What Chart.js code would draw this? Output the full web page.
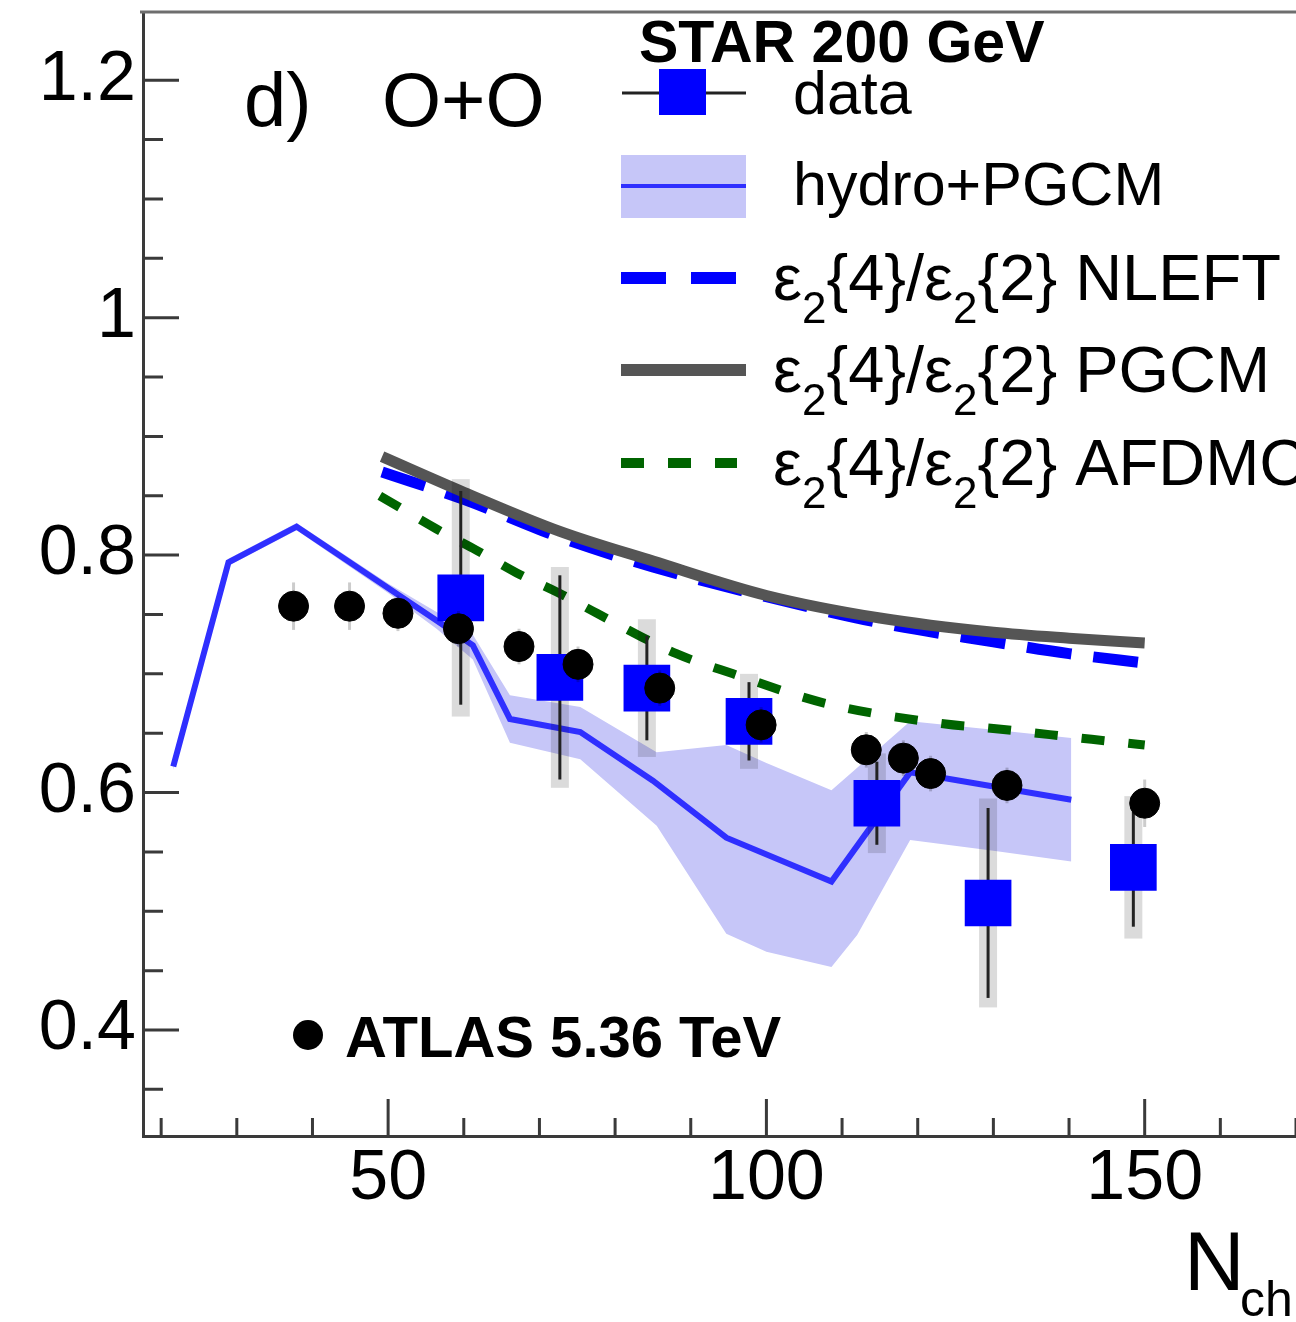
<!DOCTYPE html>
<html>
<head>
<meta charset="utf-8">
<title>O+O e2{4}/e2{2} vs Nch</title>
<script src="https://cdn.jsdelivr.net/npm/chart.js@4.4.1/dist/chart.umd.min.js"></script>
<style>
  html, body { margin: 0; padding: 0; background: #fff; }
  #wrap { width: 1296px; height: 1322px; }
</style>
</head>
<body>
<div id="wrap"><canvas id="ratioChart" width="1296" height="1322"></canvas></div>
<script>
// STAR 200 GeV O+O data (ratio with stat and sys errors)
const starNch = [59.6, 72.7, 84.2, 97.7, 114.6, 129.3, 148.5];
const starRatio = [0.764, 0.697, 0.688, 0.66, 0.591, 0.507, 0.537];
const starStat = [0.09, 0.086, 0.044, 0.033, 0.035, 0.08, 0.05];
const starSys = [0.1, 0.093, 0.058, 0.04, 0.042, 0.088, 0.06];

// ATLAS 5.36 TeV points
const atlasNch = [37.5, 44.9, 51.3, 59.3, 67.3, 75.1, 85.9, 99.3, 113.2, 118.1, 121.7, 131.8, 150.0];
const atlasRatio = [0.757, 0.757, 0.751, 0.738, 0.723, 0.708, 0.688, 0.657, 0.636, 0.629, 0.616, 0.606, 0.591];
const atlasErr = [0.02, 0.02, 0.015, 0.015, 0.015, 0.015, 0.015, 0.015, 0.015, 0.015, 0.015, 0.015, 0.02];

// hydro+PGCM central curve
const hydroNch = [21.6, 28.9, 37.9, 56.4, 61.2, 66.1, 75.4, 85.0, 94.7, 108.6, 119.0, 140.3];
const hydroRatio = [0.622, 0.794, 0.824, 0.745, 0.724, 0.662, 0.651, 0.61, 0.562, 0.525, 0.617, 0.594];

// hydro+PGCM uncertainty band
const bandNch = [21.6, 28.9, 37.9, 50, 56.4, 61.2, 66.1, 75.4, 85.5, 94.7, 100, 108.6, 112, 119, 130, 140.3];
const bandHigh = [0.625, 0.797, 0.827, 0.776, 0.752, 0.733, 0.682, 0.672, 0.634, 0.64, 0.625, 0.602, 0.621, 0.66, 0.653, 0.646];
const bandLow = [0.619, 0.791, 0.821, 0.768, 0.738, 0.712, 0.642, 0.628, 0.572, 0.481, 0.466, 0.453, 0.48, 0.56, 0.551, 0.542];

// eps2{4}/eps2{2} from the three nuclear structure inputs
const nleftNch = [49.2, 60, 72.7, 85, 100, 115, 130, 140, 150];
const nleftRatio = [0.87, 0.847, 0.815, 0.79, 0.765, 0.743, 0.727, 0.717, 0.709];
const pgcmNch = [49.2, 60, 72.7, 85, 100, 115, 130, 140, 150];
const pgcmRatio = [0.883, 0.853, 0.82, 0.795, 0.766, 0.747, 0.735, 0.73, 0.726];
const afdmcNch = [48.9, 56.4, 61.7, 67, 72.3, 77.6, 88.1, 95.6, 107.9, 123.4, 130, 141.4, 150];
const afdmcRatio = [0.85, 0.822, 0.804, 0.785, 0.769, 0.751, 0.717, 0.7, 0.675, 0.658, 0.654, 0.646, 0.64];

// axis ticks
const xTicks = [20, 30, 40, 50, 60, 70, 80, 90, 100, 110, 120, 130, 140, 150, 160, 170];
const xLabelled = [50, 100, 150];
const yTicks = [0.35, 0.4, 0.45, 0.5, 0.55, 0.6, 0.65, 0.7, 0.75, 0.8, 0.85, 0.9, 0.95, 1, 1.05, 1.1, 1.15, 1.2];
const yLabelled = [0.4, 0.6, 0.8, 1, 1.2];

const dataBlue = "#0000ff";
const hydroBlue = "#2f2fff";
const bandFill = "#c6c6f8";
const pgcmGray = "#555555";
const afdmcGreen = "#006400";
const axisColor = "#3a3a3a";
const fontFamily = '"Liberation Sans", Arial, sans-serif';

function toPoints(xs, ys) {
  return xs.map((x, i) => ({ x: x, y: ys[i] }));
}

function isIn(list, v) {
  return list.some((t) => Math.abs(t - v) < 1e-6);
}

// no extra room for the edge labels, the frame fills the canvas
function noEdgePadding(scale) {
  scale.paddingTop = 0;
  scale.paddingBottom = 0;
  scale.paddingLeft = 0;
  scale.paddingRight = 0;
}

// draws stat bars (and sys boxes) right under the markers of a dataset
const errorBars = {
  id: "errorBars",
  beforeDatasetDraw(chart, args) {
    const ds = chart.data.datasets[args.index];
    if (!ds.errStat) return;
    const { ctx, scales } = chart;
    ctx.save();
    ds.data.forEach((p, i) => {
      const px = scales.x.getPixelForValue(p.x);
      if (ds.errSys) {
        const top = scales.y.getPixelForValue(p.y + ds.errSys[i]);
        const bot = scales.y.getPixelForValue(p.y - ds.errSys[i]);
        ctx.fillStyle = "rgba(0,0,0,0.14)";
        ctx.fillRect(px - 9, top, 18, bot - top);
      }
      ctx.strokeStyle = ds.errColor;
      ctx.lineWidth = ds.errWidth;
      ctx.beginPath();
      ctx.moveTo(px, scales.y.getPixelForValue(p.y + ds.errStat[i]));
      ctx.lineTo(px, scales.y.getPixelForValue(p.y - ds.errStat[i]));
      ctx.stroke();
    });
    ctx.restore();
  },
};

// inward pointing ticks and top frame line
const frameTicks = {
  id: "frameTicks",
  afterDatasetsDraw(chart) {
    const { ctx, chartArea, scales } = chart;
    ctx.save();
    ctx.strokeStyle = axisColor;
    ctx.lineWidth = 3;
    ctx.beginPath();
    xTicks.forEach((v) => {
      const px = scales.x.getPixelForValue(v);
      const len = isIn(xLabelled, v) ? 37 : 18;
      ctx.moveTo(px, chartArea.bottom);
      ctx.lineTo(px, chartArea.bottom - len);
    });
    yTicks.forEach((v) => {
      const py = scales.y.getPixelForValue(v);
      const len = isIn(yLabelled, v) ? 36 : 20;
      ctx.moveTo(chartArea.left, py);
      ctx.lineTo(chartArea.left + len, py);
    });
    ctx.stroke();
    ctx.strokeStyle = "#6e6e6e";
    ctx.beginPath();
    ctx.moveTo(chartArea.left - 3, chartArea.top);
    ctx.lineTo(chartArea.right, chartArea.top);
    ctx.stroke();
    ctx.restore();
  },
};

function drawRich(ctx, x, y, parts, size) {
  parts.forEach((p) => {
    const s = p.sub ? Math.round(size * 0.68) : size;
    ctx.font = s + "px " + fontFamily;
    ctx.fillText(p.text, x, p.sub ? y + size * 0.36 : y);
    x += ctx.measureText(p.text).width;
  });
}

function epsRatio(name) {
  return [
    { text: "\u03b5" },
    { text: "2", sub: true },
    { text: "{4}/\u03b5" },
    { text: "2", sub: true },
    { text: "{2} " + name },
  ];
}

// legend, panel label and axis title
const annotations = {
  id: "annotations",
  afterDraw(chart) {
    const ctx = chart.ctx;
    ctx.save();
    ctx.fillStyle = "#000";
    ctx.textBaseline = "alphabetic";

    ctx.font = "76px " + fontFamily;
    ctx.fillText("d)", 244, 126);
    ctx.fillText("O+O", 382, 126);

    ctx.font = "bold 59px " + fontFamily;
    ctx.fillText("STAR 200 GeV", 639, 62);

    // data entry
    ctx.strokeStyle = "#222";
    ctx.lineWidth = 3;
    ctx.beginPath();
    ctx.moveTo(622, 93);
    ctx.lineTo(746, 93);
    ctx.stroke();
    ctx.fillStyle = dataBlue;
    ctx.fillRect(659, 69, 47, 46);
    ctx.fillStyle = "#000";
    ctx.font = "61px " + fontFamily;
    ctx.fillText("data", 793, 114);

    // hydro+PGCM entry
    ctx.fillStyle = bandFill;
    ctx.fillRect(621, 155, 125, 63);
    ctx.strokeStyle = hydroBlue;
    ctx.lineWidth = 4;
    ctx.beginPath();
    ctx.moveTo(621, 186);
    ctx.lineTo(746, 186);
    ctx.stroke();
    ctx.fillStyle = "#000";
    ctx.fillText("hydro+PGCM", 793, 205);

    // eccentricity curves
    const rows = [
      { name: "NLEFT", y: 278, color: dataBlue, width: 12, dash: [45, 25] },
      { name: "PGCM", y: 370, color: pgcmGray, width: 12, dash: [] },
      { name: "AFDMC", y: 463, color: afdmcGreen, width: 10, dash: [23, 24] },
    ];
    rows.forEach((r) => {
      ctx.strokeStyle = r.color;
      ctx.lineWidth = r.width;
      ctx.setLineDash(r.dash);
      ctx.beginPath();
      ctx.moveTo(621, r.y);
      ctx.lineTo(r.dash.length ? 737 : 746, r.y);
      ctx.stroke();
      ctx.setLineDash([]);
      ctx.fillStyle = "#000";
      drawRich(ctx, 773, r.y + 22, epsRatio(r.name), 65);
    });

    // ATLAS label
    ctx.fillStyle = "#000";
    ctx.beginPath();
    ctx.arc(308, 1035, 15, 0, Math.PI * 2);
    ctx.fill();
    ctx.font = "bold 58px " + fontFamily;
    ctx.fillText("ATLAS 5.36 TeV", 345, 1057);

    // x axis title
    ctx.font = "84px " + fontFamily;
    ctx.fillText("N", 1184, 1290);
    ctx.font = "50px " + fontFamily;
    ctx.fillText("ch", 1240, 1316);
    ctx.restore();
  },
};

const ctx = document.getElementById("ratioChart").getContext("2d");
const ratioChart = new Chart(ctx, {
  type: "line",
  data: {
    datasets: [
      {
        label: "ATLAS 5.36 TeV",
        data: toPoints(atlasNch, atlasRatio),
        showLine: false,
        pointStyle: "circle",
        pointRadius: 15,
        pointBackgroundColor: "#000",
        pointBorderColor: "#000",
        pointBorderWidth: 1,
        errStat: atlasErr,
        errColor: "rgba(0,0,0,0.2)",
        errWidth: 3,
        order: 0,
      },
      {
        label: "data",
        data: toPoints(starNch, starRatio),
        showLine: false,
        pointStyle: "rect",
        pointRadius: 33,
        pointBackgroundColor: dataBlue,
        pointBorderWidth: 0,
        errStat: starStat,
        errSys: starSys,
        errColor: "#222",
        errWidth: 3,
        order: 1,
      },
      {
        label: "AFDMC",
        data: toPoints(afdmcNch, afdmcRatio),
        borderColor: afdmcGreen,
        borderWidth: 9,
        borderDash: [23, 24],
        cubicInterpolationMode: "monotone",
        pointRadius: 0,
        fill: false,
        order: 2,
      },
      {
        label: "PGCM",
        data: toPoints(pgcmNch, pgcmRatio),
        borderColor: pgcmGray,
        borderWidth: 11,
        cubicInterpolationMode: "monotone",
        pointRadius: 0,
        fill: false,
        order: 3,
      },
      {
        label: "NLEFT",
        data: toPoints(nleftNch, nleftRatio),
        borderColor: dataBlue,
        borderWidth: 11,
        borderDash: [45, 22],
        cubicInterpolationMode: "monotone",
        pointRadius: 0,
        fill: false,
        order: 4,
      },
      {
        label: "hydro+PGCM",
        data: toPoints(hydroNch, hydroRatio),
        borderColor: hydroBlue,
        borderWidth: 6,
        pointRadius: 0,
        fill: false,
        order: 5,
      },
      {
        label: "band high",
        data: toPoints(bandNch, bandHigh),
        borderWidth: 0,
        borderColor: "rgba(0,0,0,0)",
        backgroundColor: bandFill,
        pointRadius: 0,
        fill: "+1",
        order: 6,
      },
      {
        label: "band low",
        data: toPoints(bandNch, bandLow),
        borderWidth: 0,
        borderColor: "rgba(0,0,0,0)",
        pointRadius: 0,
        fill: false,
        order: 7,
      },
    ],
  },
  options: {
    responsive: false,
    animation: false,
    devicePixelRatio: 1,
    layout: { autoPadding: false, padding: { top: 12, right: 0, left: 0, bottom: 0 } },
    plugins: {
      legend: { display: false },
      tooltip: { enabled: false },
    },
    scales: {
      x: {
        type: "linear",
        position: "bottom",
        min: 17.6,
        max: 170,
        afterBuildTicks: (scale) => {
          scale.ticks = xTicks.map((v) => ({ value: v }));
        },
        afterFit: (scale) => {
          scale.height = 186;
          noEdgePadding(scale);
        },
        grid: { display: false, drawTicks: false },
        border: { display: true, color: axisColor, width: 3 },
        ticks: {
          autoSkip: false,
          maxRotation: 0,
          padding: 2,
          color: "#000",
          font: { family: fontFamily, size: 70 },
          callback: (v) => (isIn(xLabelled, v) ? String(v) : ""),
        },
      },
      y: {
        type: "linear",
        position: "left",
        min: 0.3107,
        max: 1.2575,
        afterBuildTicks: (scale) => {
          scale.ticks = yTicks.map((v) => ({ value: v }));
        },
        afterFit: (scale) => {
          scale.width = 143;
          noEdgePadding(scale);
        },
        grid: { display: false, drawTicks: false },
        border: { display: true, color: axisColor, width: 3 },
        ticks: {
          autoSkip: false,
          padding: 7,
          color: "#000",
          font: { family: fontFamily, size: 70 },
          callback: (v) => {
            if (!isIn(yLabelled, v)) return "";
            return Math.abs(v - 1) < 1e-6 ? "1" : v.toFixed(1);
          },
        },
      },
    },
  },
  plugins: [errorBars, frameTicks, annotations],
});
</script>
</body>
</html>
